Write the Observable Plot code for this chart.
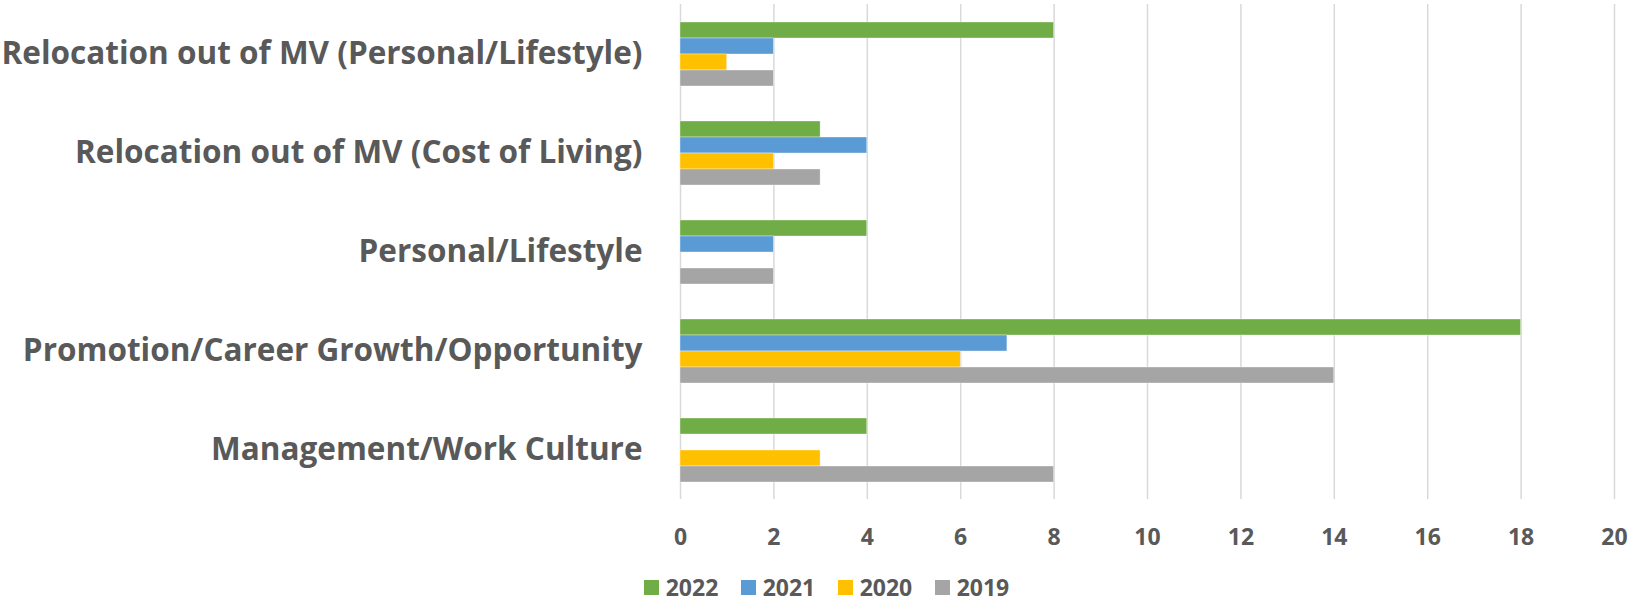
<!DOCTYPE html>
<html>
<head>
<meta charset="utf-8">
<script src="https://cdn.jsdelivr.net/npm/d3@7"></script>
<script src="https://cdn.jsdelivr.net/npm/@observablehq/plot@0.6"></script>
<style>
  html, body { margin: 0; padding: 0; background: #fff; }
  #chart { width: 1629px; height: 603px; overflow: hidden; position: relative; background: #fff; }
  #chart svg { display: block; }
  .legend { position: absolute; top: 576px; left: 644px; height: 23px; display: flex; align-items: center;
            font-family: "Open Sans", sans-serif; font-weight: bold; font-size: 23px; line-height: 23px; color: #595959; }
  .legend .item { display: flex; align-items: center; margin-right: 22.7px; }
  .legend .sw { width: 15px; height: 15px; margin-right: 6.7px; }
  .legend .lbl { line-height: 23px; }
</style>
</head>
<body>
<div id="chart"></div>
<script>
const categories = [
  "Relocation out of MV (Personal/Lifestyle)",
  "Relocation out of MV (Cost of Living)",
  "Personal/Lifestyle",
  "Promotion/Career Growth/Opportunity",
  "Management/Work Culture"
];
const years = ["2022", "2021", "2020", "2019"];
const values2022 = [8, 3, 4, 18, 4];
const values2021 = [2, 4, 2, 7, 0];
const values2020 = [1, 2, 0, 6, 3];
const values2019 = [2, 3, 2, 14, 8];
const colors = ["#70AD47", "#5B9BD5", "#FFC000", "#A5A5A5"];
const xTicks = [0, 2, 4, 6, 8, 10, 12, 14, 16, 18, 20];

const seriesValues = [values2022, values2021, values2020, values2019];
const data = categories.flatMap((c, i) =>
  years.map((y, j) => ({ category: c, year: y, value: seriesValues[j][i] }))
);

const textFill = "#595959";

const plot = Plot.plot({
  width: 1629,
  height: 560,
  marginTop: 3,
  marginBottom: 60,
  marginLeft: 680,
  marginRight: 15,
  style: { fontFamily: "'Open Sans', sans-serif", background: "#fff", overflow: "hidden" },
  x: { domain: [0, 20] },
  y: { domain: years, paddingInner: 0, paddingOuter: 0.935, axis: null },
  fy: { domain: categories, padding: 0, label: null },
  color: { domain: years, range: colors },
  marks: [
    Plot.gridX(xTicks, { stroke: "#d9d9d9", strokeOpacity: 1, strokeWidth: 1.5 }),
    Plot.barX(data, { x: "value", y: "year", fy: "category", fill: "year", stroke: "#ffffff", strokeWidth: 0.5, strokeOpacity: 0.7 }),
    Plot.axisX(xTicks, { tickSize: 0, tickPadding: 29, fontSize: 23, fontWeight: "bold", fill: textFill, label: null }),
    Plot.axisFy({ anchor: "left", tickSize: 0, tickPadding: 38, fontSize: 31.5, fontWeight: "bold", fill: textFill, label: null })
  ]
});

const chart = document.getElementById("chart");
chart.appendChild(plot);

const legend = document.createElement("div");
legend.className = "legend";
years.forEach((y, j) => {
  const item = document.createElement("div");
  item.className = "item";
  const sw = document.createElement("span");
  sw.className = "sw";
  sw.style.background = colors[j];
  const lbl = document.createElement("span");
  lbl.className = "lbl";
  lbl.textContent = y;
  item.appendChild(sw);
  item.appendChild(lbl);
  legend.appendChild(item);
});
chart.appendChild(legend);
</script>
</body>
</html>
